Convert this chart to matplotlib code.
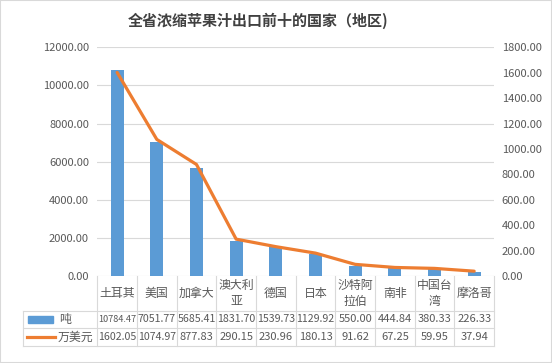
import matplotlib
matplotlib.use('Agg')
import matplotlib.pyplot as plt
from matplotlib import transforms
from matplotlib.lines import Line2D
from matplotlib.patches import Rectangle

plt.rcParams['font.family'] = ['Noto Sans CJK SC', 'DejaVu Sans']

title = '全省浓缩苹果汁出口前十的国家（地区)'
categories = ['土耳其', '美国', '加拿大', '澳大利\n亚', '德国', '日本',
              '沙特阿\n拉伯', '南非', '中国台\n湾', '摩洛哥']
tons = [10784.47, 7051.77, 5685.41, 1831.70, 1539.73, 1129.92, 550.00, 444.84, 380.33, 226.33]
usd = [1602.05, 1074.97, 877.83, 290.15, 230.96, 180.13, 91.62, 67.25, 59.95, 37.94]
series_names = ['吨', '万美元']
left_ticks = [0, 2000, 4000, 6000, 8000, 10000, 12000]
right_ticks = [0, 200, 400, 600, 800, 1000, 1200, 1400, 1600, 1800]

BAR_C = '#5B9BD5'
LINE_C = '#ED7D31'
GRID_C = '#D9D9D9'
TXT_C = '#595959'

W, H = 552, 363
fig = plt.figure(figsize=(W / 100, H / 100), dpi=100)


def fx(x):
    return x / W


def fy(y):
    return 1 - y / H


ax = fig.add_axes([fx(97.3), fy(276), fx(494) - fx(97.3), fy(47.3) - fy(276)])
xs = list(range(len(categories)))
ax.bar(xs, tons, width=0.33, color=BAR_C, zorder=2)
ax.set_xlim(-0.5, len(categories) - 0.5)
ax.set_ylim(0, 12000)
ax.set_yticks(left_ticks)
ax.set_yticklabels([f'{v:.2f}' for v in left_ticks])
ax.tick_params(axis='y', length=0, pad=6, labelsize=8, labelcolor=TXT_C)
ax.set_xticks([])
ax.grid(axis='y', color=GRID_C, lw=0.8)
ax.set_axisbelow(True)
for s in ax.spines.values():
    s.set_visible(False)

ax2 = ax.twinx()
ax2.plot(xs, usd, color=LINE_C, lw=2.3, solid_capstyle='round', solid_joinstyle='round', zorder=3)
ax2.set_ylim(0, 1800)
ax2.set_yticks(right_ticks)
ax2.set_yticklabels([f'{v:.2f}' for v in right_ticks])
ax2.tick_params(axis='y', length=0, pad=5.5, labelsize=8, labelcolor=TXT_C)
for s in ax2.spines.values():
    s.set_visible(False)

fig.text(fx(258.5), fy(21), title, ha='center', va='center', fontsize=10.8,
         fontweight='bold', color='#404040')

# data table
blend = transforms.blended_transform_factory(ax.transData, fig.transFigure)
y_top, y_h1, y_h2, y_bot = 276, 310.7, 328.3, 346
x_leg = 23.3
x_right = ax.get_position().x1
lkw = dict(color=GRID_C, lw=0.8)
for i in range(len(categories) + 1):
    fig.add_artist(Line2D([i - 0.5, i - 0.5], [fy(y_top), fy(y_bot)], transform=blend, **lkw))
for yy in (y_h1, y_h2, y_bot):
    fig.add_artist(Line2D([fx(x_leg), x_right], [fy(yy), fy(yy)], transform=fig.transFigure, **lkw))
fig.add_artist(Line2D([fx(x_leg), fx(x_leg)], [fy(y_h1), fy(y_bot)], transform=fig.transFigure, **lkw))

for i, c in enumerate(categories):
    ax.text(i, fy((y_top + y_h1) / 2), c, transform=blend, ha='center', va='center',
            fontsize=8.6, color=TXT_C, linespacing=1.25, clip_on=False)

row_texts = []
for vals, ymid in ((tons, (y_h1 + y_h2) / 2), (usd, (y_h2 + y_bot) / 2)):
    for i, v in enumerate(vals):
        t = ax.text(i, fy(ymid), f'{v:.2f}', transform=blend, ha='center', va='center',
                    fontsize=8, color=TXT_C, clip_on=False)
        row_texts.append((i, t))

# legend keys
fig.add_artist(Rectangle((fx(28), fy(322.5)), fx(52.7) - fx(28), fy(316) - fy(322.5),
                         transform=fig.transFigure, color=BAR_C))
fig.add_artist(Line2D([fx(26.7), fx(55)], [fy(337.3), fy(337.3)], transform=fig.transFigure,
                      color=LINE_C, lw=2.3))
fig.text(fx(59), fy((y_h1 + y_h2) / 2), series_names[0], ha='left', va='center', fontsize=8.6, color=TXT_C)
fig.text(fx(58), fy((y_h2 + y_bot) / 2), series_names[1], ha='left', va='center', fontsize=8.6, color=TXT_C)

# overflow handling: shrink values wider than their cell so they stay inside it
fig.canvas.draw()
renderer = fig.canvas.get_renderer()
col_w = ax.transData.transform((1, 0))[0] - ax.transData.transform((0, 0))[0]
for i, t in row_texts:
    bb = t.get_window_extent(renderer)
    if bb.width > col_w - 1:
        t.set_fontsize(t.get_fontsize() * (col_w - 1.5) / bb.width)

fig.add_artist(Rectangle((0, 0), 1, 1, transform=fig.transFigure, fill=False,
                         edgecolor=GRID_C, lw=1.5))

fig.savefig('out.png', dpi=100)
